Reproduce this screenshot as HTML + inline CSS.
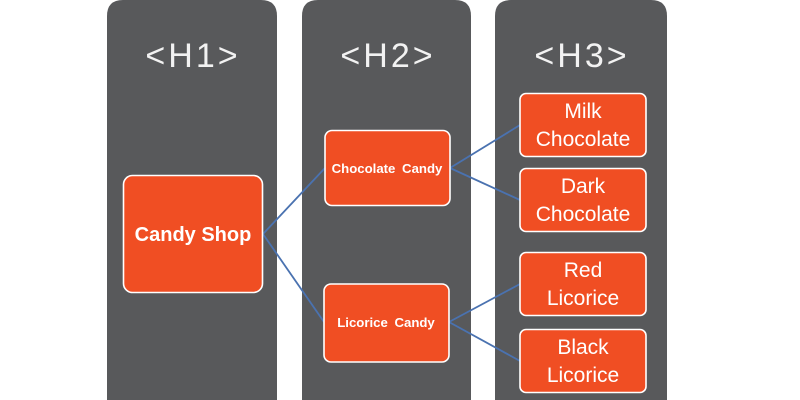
<!DOCTYPE html>
<html><head><meta charset="utf-8"><style>
html,body{margin:0;padding:0;background:#fff;width:800px;height:400px;overflow:hidden}
svg{display:block}
</style></head><body>
<svg width="800" height="400" viewBox="0 0 800 400" xmlns="http://www.w3.org/2000/svg">
<g fill="#58595b">
<path d="M107 400 V16 Q107 0 123 0 H261 Q277 0 277 16 V400 Z"/>
<path d="M302 400 V16 Q302 0 318 0 H455 Q471 0 471 16 V400 Z"/>
<path d="M495 400 V16 Q495 0 511 0 H651 Q667 0 667 16 V400 Z"/>
</g>
<g font-family="Liberation Sans, sans-serif" font-size="34" fill="#f2f2f2" text-anchor="middle" letter-spacing="3">
<text x="193" y="67">&lt;H1&gt;</text>
<text x="388" y="67">&lt;H2&gt;</text>
<text x="582" y="67">&lt;H3&gt;</text>
</g>
<g stroke="#4a72b0" stroke-width="1.8" fill="none">
<line x1="263" y1="234" x2="325" y2="168"/>
<line x1="263" y1="234" x2="324" y2="322"/>
<line x1="450" y1="168" x2="520" y2="125"/>
<line x1="450" y1="168" x2="520" y2="200"/>
<line x1="449" y1="322" x2="520" y2="284"/>
<line x1="449" y1="322" x2="520" y2="361"/>
</g>
<g fill="#f04e23" stroke="#ffffff" stroke-width="1.6">
<rect x="123.5" y="175.5" width="139" height="117" rx="9"/>
<rect x="325" y="130.5" width="125" height="75" rx="7"/>
<rect x="324" y="284" width="125" height="78" rx="7"/>
<rect x="520" y="93.5" width="126" height="63" rx="6"/>
<rect x="520" y="168.5" width="126" height="63" rx="6"/>
<rect x="520" y="252.5" width="126" height="63" rx="6"/>
<rect x="520" y="329.5" width="126" height="63" rx="6"/>
</g>
<g font-family="Liberation Sans, sans-serif" fill="#ffffff" text-anchor="middle">
<text x="193" y="241" font-size="20" font-weight="bold">Candy Shop</text>
<text x="387" y="173" font-size="13.2" font-weight="bold" word-spacing="3">Chocolate Candy</text>
<text x="386" y="327" font-size="13.2" font-weight="bold" word-spacing="3">Licorice Candy</text>
<g font-size="21">
<text x="583" y="118">Milk</text>
<text x="583" y="146">Chocolate</text>
<text x="583" y="193">Dark</text>
<text x="583" y="221">Chocolate</text>
<text x="583" y="277">Red</text>
<text x="583" y="305">Licorice</text>
<text x="583" y="354">Black</text>
<text x="583" y="382">Licorice</text>
</g>
</g>
</svg>
</body></html>
